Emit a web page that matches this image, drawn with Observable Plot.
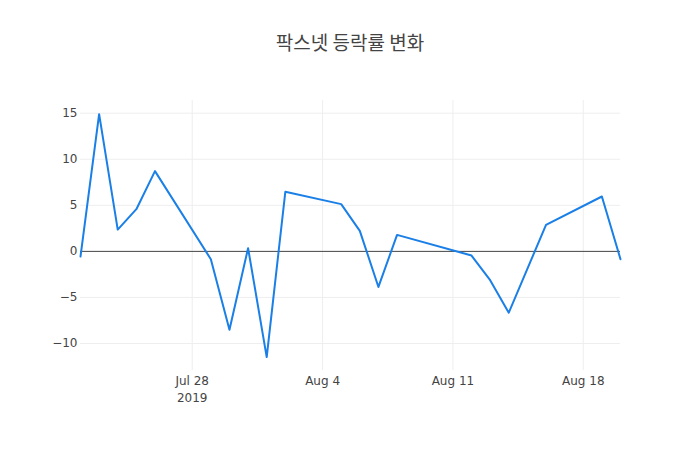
<!DOCTYPE html>
<html>
<head>
<meta charset="utf-8">
<script src="https://cdn.jsdelivr.net/npm/d3@7"></script>
<script src="https://cdn.jsdelivr.net/npm/@observablehq/plot@0.6"></script>
<style>
  html, body { margin: 0; padding: 0; background: #fff; }
  #wrap { position: relative; width: 700px; height: 450px; }
  #title { position: absolute; left: 0; top: 31px; width: 700px; text-align: center; line-height: 1.2;
           font-family: "Noto Sans CJK KR", "DejaVu Sans", sans-serif; font-size: 19px; color: #444; }
</style>
</head>
<body>
<div id="wrap">
  <div id="title">팍스넷 등락률 변화</div>
</div>
<script>
const title = "팍스넷 등락률 변화";
const dates = ["2019-07-22","2019-07-23","2019-07-24","2019-07-25","2019-07-26",
  "2019-07-29","2019-07-30","2019-07-31","2019-08-01","2019-08-02",
  "2019-08-05","2019-08-06","2019-08-07","2019-08-08",
  "2019-08-12","2019-08-13","2019-08-14","2019-08-16",
  "2019-08-19","2019-08-20"];
const changes = [-0.56, 14.9, 2.37, 4.58, 8.71,
  -0.85, -8.5, 0.35, -11.47, 6.47,
  5.13, 2.23, -3.86, 1.79,
  -0.45, -3.13, -6.65, 2.88,
  5.96, -0.85];
const xTicks = ["2019-07-28","2019-08-04","2019-08-11","2019-08-18"];
const xTickLabels = ["Jul 28\n2019","Aug 4","Aug 11","Aug 18"];
const yTicks = [-10, -5, 0, 5, 10, 15];

const data = dates.map((d, i) => ({date: new Date(d + "T00:00:00Z"), value: changes[i]}));
const xTickDates = xTicks.map(d => new Date(d + "T00:00:00Z"));
const labelFor = new Map(xTickDates.map((d, i) => [+d, xTickLabels[i]]));

const chart = Plot.plot({
  width: 700,
  height: 450,
  marginLeft: 80,
  marginRight: 80,
  marginTop: 100,
  marginBottom: 80,
  style: {fontFamily: "'DejaVu Sans', Verdana, sans-serif", fontSize: "12px", color: "#444", background: "#fff"},
  x: {type: "utc", domain: [new Date("2019-07-22T00:00:00Z"), new Date("2019-08-20T00:00:00Z")]},
  y: {domain: [-12.93, 16.38]},
  marks: [
    Plot.gridX(xTickDates, {stroke: "#eee", strokeOpacity: 1}),
    Plot.gridY(yTicks.filter(v => v !== 0), {stroke: "#eee", strokeOpacity: 1}),
    Plot.ruleY([0], {stroke: "#444", strokeWidth: 1}),
    Plot.line(data, {x: "date", y: "value", stroke: "#1a7fe6", strokeWidth: 2}),
    Plot.axisY(yTicks, {tickSize: 0, tickPadding: 3, label: null, fill: "#444",
      tickFormat: v => (v < 0 ? "\u2212" + Math.abs(v) : String(v))}),
    Plot.axisX(xTickDates, {tickSize: 0, tickPadding: 3, label: null, fill: "#444", lineHeight: 1.4,
      tickFormat: d => labelFor.get(+d)})
  ]
});
document.getElementById("wrap").prepend(chart);
chart.style.position = "absolute";
chart.style.left = "0";
chart.style.top = "0";
document.getElementById("title").style.zIndex = "2";
</script>
</body>
</html>
